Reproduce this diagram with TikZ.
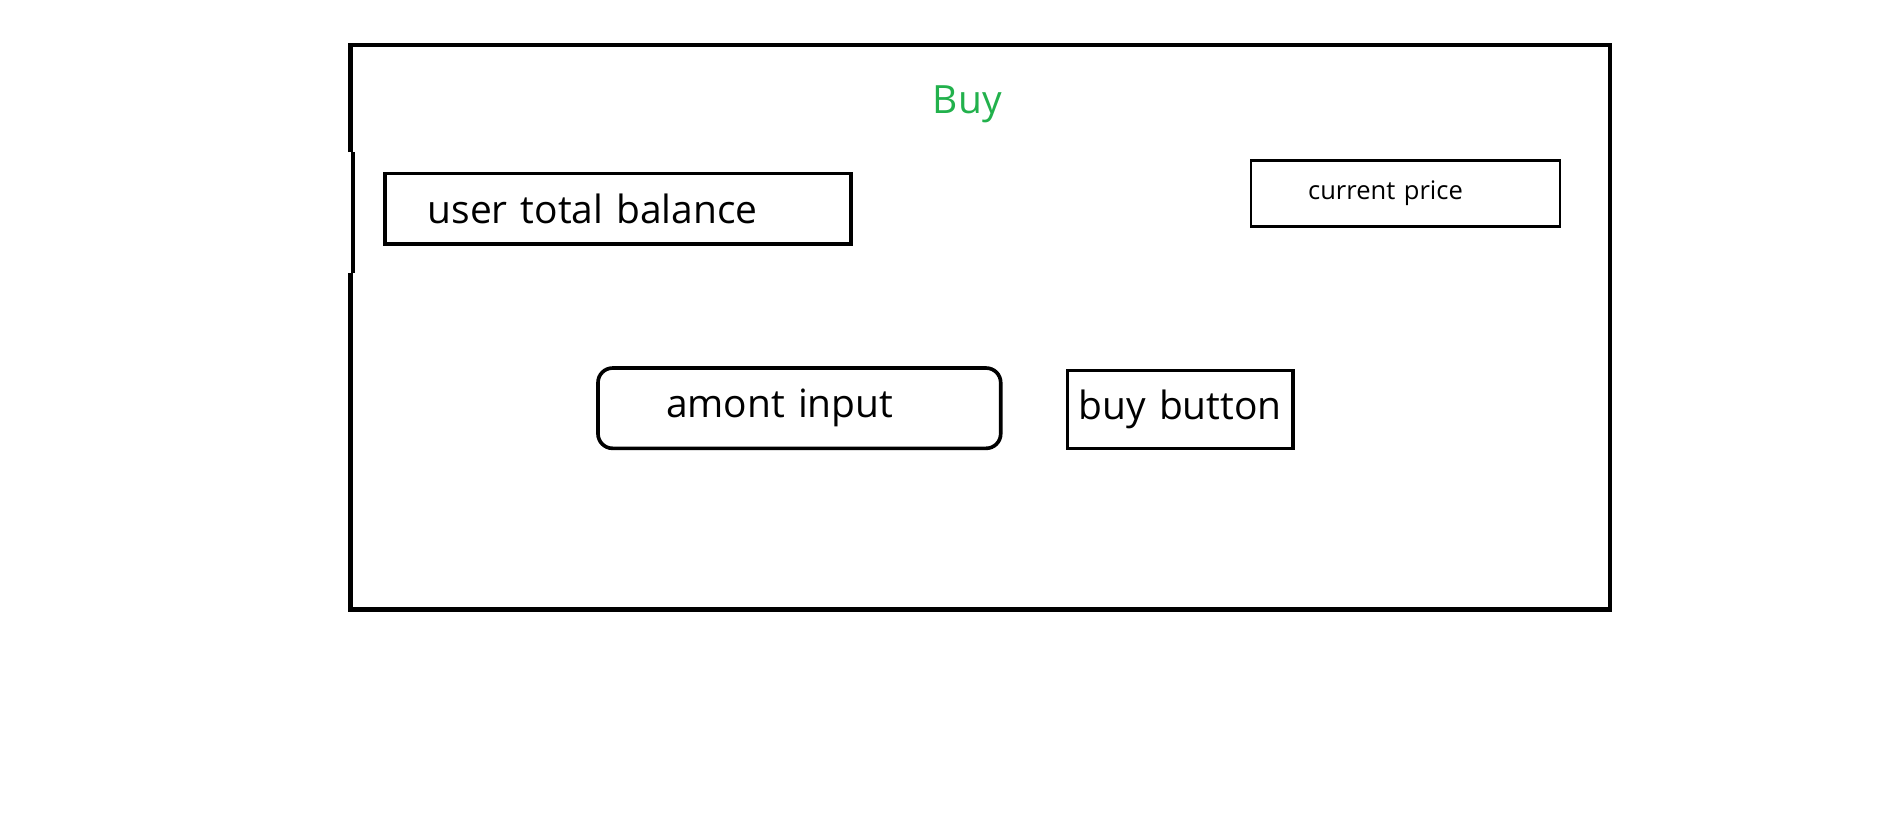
\documentclass[tikz,border=0pt]{standalone}
\usepackage{fontspec}
\setmainfont{Open Sans}
\usetikzlibrary{positioning}

\definecolor{paintgreen}{RGB}{34,177,76}

\begin{document}
\begin{tikzpicture}[x=1pt, y=-1pt,
    field/.style={draw, line width=3pt, anchor=north west, inner ysep=0pt,
                  align=left, font=\fontsize{32}{36}\selectfont},
    smallfield/.style={field, line width=2.3pt, font=\fontsize{21}{25}\selectfont}]
        % Velicina slike
        \def\pageW{1560}
        \def\pageH{670.7}
        \useasboundingbox (0,0) rectangle (\pageW,\pageH);

        % Okvir (frame)
        \draw[line width=3.5pt] (288,125) -- (288,37) -- (1323,37) -- (1323,501)
            -- (288,501) -- (288,224);
        \draw[line width=3.5pt] (290,125) -- (290,224);

        % Naslov
        \node[text=paintgreen, font=\fontsize{32}{36}\selectfont] (title) at (795,86) {Buy};

        % Stanje korisnika
        \node[field, minimum width=383, minimum height=58, inner xsep=35,
              text width=313] (balance) at (315,141) {user total balance};

        % Trenutna cijena
        \node[smallfield, minimum width=254, minimum height=54, inner xsep=47,
              text width=160] (price) at (1027,131) {current price};

        % Unos iznosa
        \node[field, rounded corners=12pt, minimum width=331, minimum height=66,
              inner xsep=56, text width=219] (amount) at (490,301) {amont input};

        % Gumb
        \node[field, align=center, minimum width=185, minimum height=64,
              inner xsep=0pt, text width=185] (buybtn) at (876,303) {buy button};
\end{tikzpicture}
\end{document}
